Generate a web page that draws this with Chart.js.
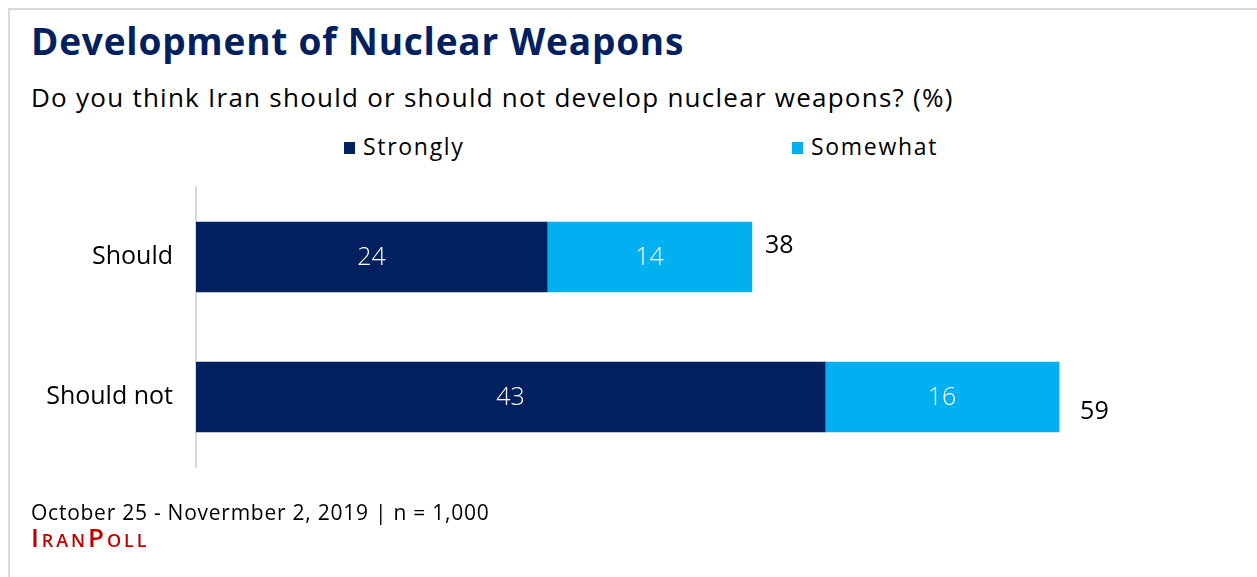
<!DOCTYPE html>
<html>
<head>
<meta charset="utf-8">
<script src="https://cdn.jsdelivr.net/npm/chart.js@4.4.1/dist/chart.umd.min.js"></script>
<style>
  html,body{margin:0;padding:0;background:#fff;}
  body{width:1257px;height:577px;position:relative;overflow:hidden;font-family:"Open Sans","Noto Sans",sans-serif;}
  .frame{position:absolute;left:8px;top:8px;right:-10px;bottom:-10px;border-top:2px solid #d9d9d9;border-left:2px solid #d9d9d9;}
  .title{position:absolute;left:31px;top:15px;font-size:37px;font-weight:700;color:#002060;white-space:nowrap;letter-spacing:0.8px;}
  .sub{position:absolute;left:31px;top:79px;font-size:26px;color:#000;white-space:nowrap;letter-spacing:1.25px;}
  .legend{position:absolute;top:130px;left:0;font-size:23px;color:#000;letter-spacing:1.7px;}
  .legend span{position:absolute;white-space:nowrap;}
  .legend i{display:inline-block;width:11px;height:12px;margin-right:8px;vertical-align:1px;}
  .foot{position:absolute;left:31px;top:498px;font-size:21px;color:#000;white-space:nowrap;letter-spacing:0.75px;}
  .brand{position:absolute;left:31px;top:519px;font-size:26px;color:#c00000;font-variant:small-caps;font-weight:600;white-space:nowrap;letter-spacing:2.9px;}
  #c{position:absolute;left:0;top:0;}
</style>
</head>
<body>
<div class="frame"></div>
<div class="title">Development of Nuclear Weapons</div>
<div class="sub">Do you think Iran should or should not develop nuclear weapons? (%)</div>
<div class="legend" id="legend"></div>
<canvas id="c" width="1257" height="577"></canvas>
<div class="foot">October 25 - Novermber 2, 2019 | n = 1,000</div>
<div class="brand">IranPoll</div>
<script>
// Data
const categories=['Should','Should not'];
const seriesNames=['Strongly','Somewhat'];
const strongly=[24,43];
const somewhat=[14,16];
const totals=[38,59];

const colors=['#002060','#00b0f0'];
const legendX=[344,792];
const totalOffsets=[[13,-11],[21,15]];
const fontFam='"Open Sans", "Noto Sans", sans-serif';

// Legend
const lg=document.getElementById('legend');
seriesNames.forEach((n,i)=>{
  const s=document.createElement('span');
  s.style.left=legendX[i]+'px';
  s.innerHTML=`<i style="background:${colors[i]}"></i>${n}`;
  lg.appendChild(s);
});

// Labels plugin
const labelPlugin={
  id:'labels',
  afterDatasetsDraw(chart){
    const ctx=chart.ctx; ctx.save();
    ctx.font='300 25px '+fontFam;
    ctx.textBaseline='middle';
    chart.data.datasets.forEach((ds,di)=>{
      chart.getDatasetMeta(di).data.forEach((bar,i)=>{
        ctx.fillStyle='#fff'; ctx.textAlign='center';
        ctx.fillText(ds.data[i],(bar.x+bar.base)/2,bar.y+1);
      });
    });
    const last=chart.getDatasetMeta(chart.data.datasets.length-1).data;
    ctx.font='400 25px '+fontFam;
    ctx.fillStyle='#000'; ctx.textAlign='left';
    totals.forEach((t,i)=>{
      const x=chart.scales.x.getPixelForValue(t);
      ctx.fillText(t,x+totalOffsets[i][0],last[i].y+totalOffsets[i][1]);
    });
    ctx.restore();
  }
};

new Chart(document.getElementById('c'),{
  type:'bar',
  data:{
    labels:categories,
    datasets:[
      {label:seriesNames[0],data:strongly,backgroundColor:colors[0]},
      {label:seriesNames[1],data:somewhat,backgroundColor:colors[1]}
    ]
  },
  options:{
    indexAxis:'y',
    responsive:false,
    animation:false,
    layout:{padding:{top:187,bottom:110,right:37,left:0}},
    datasets:{bar:{barThickness:70}},
    plugins:{legend:{display:false},tooltip:{enabled:false}},
    scales:{
      x:{stacked:true,min:0,max:70,display:false},
      y:{stacked:true,
        grid:{display:false,drawTicks:false},
        border:{display:true,color:'#d9d9d9',width:2},
        ticks:{color:'#000',font:{size:25,family:fontFam},padding:23},
        afterFit(s){s.width=196;}
      }
    }
  },
  plugins:[labelPlugin]
});
</script>
</body>
</html>
